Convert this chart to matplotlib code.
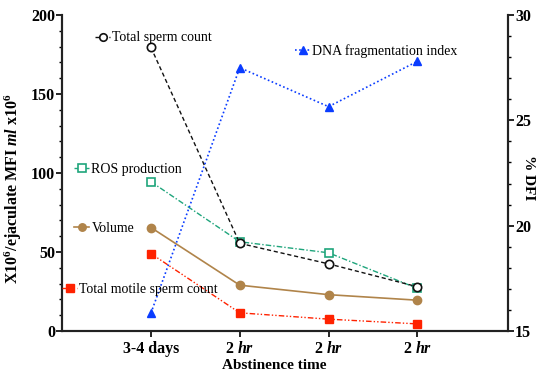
import matplotlib
matplotlib.use("Agg")
import matplotlib.pyplot as plt
from matplotlib.ticker import MultipleLocator

plt.rcParams['font.family'] = ['Liberation Serif', 'DejaVu Serif']
plt.rcParams['mathtext.fontset'] = 'custom'
plt.rcParams['mathtext.rm'] = 'Liberation Serif'
plt.rcParams['mathtext.bf'] = 'Liberation Serif:bold'
plt.rcParams['mathtext.it'] = 'Liberation Serif:italic'
plt.rcParams['mathtext.bfit'] = 'Liberation Serif:bold:italic'
plt.rcParams['mathtext.default'] = 'bf'

# data
groups = ["3-4 days", r"2 $\mathbfit{hr}$", r"2 $\mathbfit{hr}$", r"2 $\mathbfit{hr}$"]
total_sperm = [179.5, 55.5, 42.5, 28.0]
ros = [94.5, 56.5, 49.5, 27.0]
volume = [65.5, 29.0, 23.0, 19.5]
motile = [49.0, 11.5, 7.5, 4.5]
dfi = [15.85, 27.5, 25.65, 27.8]

x = list(range(len(groups)))

fig = plt.figure(figsize=(5.45, 3.82), dpi=100)
ax = fig.add_axes([0.114, 0.1335, 0.818, 0.8272])
ax2 = ax.twinx()

c_black = '#111111'
c_green = '#1fa57c'
c_brown = '#b0844a'
c_red = '#ff2200'
c_blue = '#0a3cff'

h1, = ax.plot(x, total_sperm, color=c_black, ls=(0, (3, 2)), lw=1.0,
              marker='o', ms=6, mfc='white', mec=c_black, mew=1.2, zorder=5)
h2, = ax.plot(x, ros, color=c_green, ls=(0, (4, 1.5, 1, 1.5)), lw=1.0,
              marker='s', ms=6, mfc='white', mec=c_green, mew=1.2, zorder=4)
h3, = ax.plot(x, volume, color=c_brown, ls='-', lw=1.2,
              marker='o', ms=6, mfc=c_brown, mec=c_brown, zorder=4)
h4, = ax.plot(x, motile, color=c_red, ls=(0, (4, 1.5, 1, 1.5, 1, 1.5)), lw=1.0,
              marker='s', ms=6, mfc=c_red, mec=c_red, zorder=4)
h5, = ax2.plot(x, dfi, color=c_blue, ls=(0, (1, 1.5)), lw=1.2,
               marker='^', ms=6, mfc=c_blue, mec=c_blue, zorder=4)

ax.set_xlim(-1, 4.02)
ax.set_ylim(0, 200)
ax2.set_ylim(15, 30)

ax.set_xticks(x)
ax.set_xticklabels(groups, fontsize=11, fontweight='bold')
ax.yaxis.set_major_locator(MultipleLocator(50))
ax.yaxis.set_minor_locator(MultipleLocator(10))
ax2.yaxis.set_major_locator(MultipleLocator(5))
ax2.yaxis.set_minor_locator(MultipleLocator(1))

for a in (ax, ax2):
    a.spines['top'].set_visible(False)
    for s in a.spines.values():
        s.set_linewidth(1.5)
        s.set_color('#222222')
    a.tick_params(which='major', length=4, width=1.2, direction='out', labelsize=11.5, pad=1)
    a.tick_params(which='minor', length=2.5, width=1.0, direction='out')
ax.tick_params(axis='x', length=4, pad=3)
for lab in ax.get_yticklabels() + ax2.get_yticklabels():
    lab.set_fontweight('bold')

ax.set_xlabel("Abstinence time", fontsize=11, fontweight='bold')
ax.xaxis.set_label_coords(0.475, -0.09)
ax.set_ylabel(r"X10$^{6}$/ejaculate MFI $\mathbfit{ml}$ x10$^{6}$", fontsize=11.5,
              fontweight='bold')
ax.yaxis.set_label_coords(-0.085, 0.45)
ax2.set_ylabel("% DFI", fontsize=11, fontweight='bold', rotation=-90,
               va='center', ha='center')
ax2.yaxis.set_label_coords(1.045, 0.485)

# labels placed inside the plot like the original
labels = [
    (h1, "Total sperm count", 95, 38),
    (h5, "DNA fragmentation index", 295, 51),
    (h2, "ROS production", 74, 169),
    (h3, "Volume", 74, 228),
    (h4, "Total motile sperm count", 62, 289),
]
W, H = 545.0, 382.0
for h, txt, px, py in labels:
    leg = fig.legend(handles=[h], labels=[txt], loc='center left',
                     bbox_to_anchor=(px / W, 1 - py / H), frameon=False,
                     fontsize=10, handlelength=1.1, handletextpad=0.15,
                     borderpad=0, borderaxespad=0, numpoints=1, markerscale=0.9)

fig.savefig("out.png", dpi=100)
